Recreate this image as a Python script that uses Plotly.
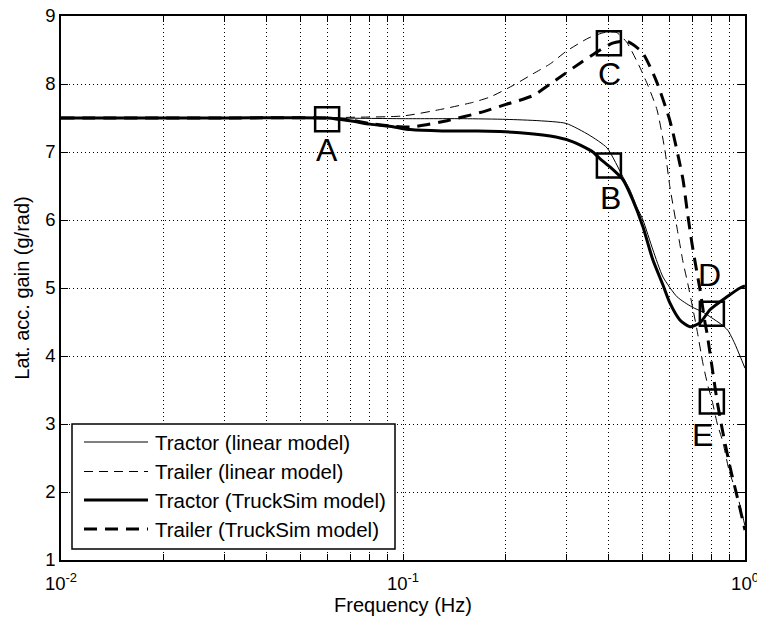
import numpy as np
import plotly.graph_objects as go

# Lateral acceleration gain vs. frequency: tractor and trailer, linear and TruckSim models
tractor_lin_f = [0.01, 0.03, 0.06, 0.1, 0.15, 0.2, 0.25, 0.3, 0.35, 0.395, 0.44, 0.461,
                 0.483, 0.503, 0.538, 0.576, 0.633, 0.70, 0.75, 0.80, 0.85, 0.89, 0.93,
                 0.967, 1.0]
tractor_lin_g = [7.5, 7.5, 7.5, 7.49, 7.49, 7.48, 7.46, 7.42, 7.25, 7.06, 6.63, 6.44,
                 6.19, 6.0, 5.56, 5.16, 4.87, 4.72, 4.65, 4.56, 4.47, 4.38, 4.2,
                 4.0, 3.82]

trailer_lin_f = [0.01, 0.05, 0.07, 0.1, 0.13, 0.16, 0.18, 0.21, 0.24, 0.27, 0.3, 0.35,
                 0.39, 0.42, 0.45, 0.49, 0.52, 0.553, 0.583, 0.603, 0.637, 0.659, 0.68,
                 0.705, 0.724, 0.754, 0.78, 0.80, 0.83, 0.86, 0.9, 0.95, 1.0]
trailer_lin_g = [7.5, 7.5, 7.51, 7.53, 7.63, 7.73, 7.81, 7.98, 8.15, 8.3, 8.48, 8.68,
                 8.76, 8.76, 8.62, 8.27, 7.98, 7.62, 7.03, 6.49, 5.8, 5.38, 5.07,
                 4.68, 4.38, 3.88, 3.55, 3.36, 3.0, 2.75, 2.3, 1.95, 1.5]

tractor_ts_f = [0.01, 0.03, 0.06, 0.07, 0.08, 0.0935, 0.105, 0.13, 0.165, 0.192, 0.224,
                0.28, 0.314, 0.33, 0.359, 0.377, 0.403, 0.44, 0.47, 0.503, 0.538,
                0.576, 0.603, 0.645, 0.69, 0.739, 0.79, 0.886, 0.967, 1.0]
tractor_ts_g = [7.5, 7.5, 7.5, 7.46, 7.41, 7.37, 7.33, 7.31, 7.31, 7.3, 7.28,
                7.22, 7.15, 7.1, 7.0, 6.9, 6.78, 6.59, 6.29, 5.9, 5.41,
                5.04, 4.78, 4.53, 4.43, 4.49, 4.68, 4.87, 5.0, 5.03]

trailer_ts_f = [0.01, 0.03, 0.06, 0.07, 0.08, 0.0935, 0.107, 0.1345, 0.168, 0.2, 0.24,
                0.28, 0.33, 0.377, 0.41, 0.45, 0.5, 0.55, 0.6, 0.616, 0.637, 0.659,
                0.677, 0.70, 0.724, 0.739, 0.764, 0.774, 0.801, 0.828, 0.862, 0.904,
                0.954, 1.0]
trailer_ts_g = [7.5, 7.5, 7.5, 7.47, 7.42, 7.38, 7.37, 7.46, 7.58, 7.7, 7.83,
                8.06, 8.31, 8.5, 8.6, 8.63, 8.47, 8.05, 7.5, 7.28, 6.95, 6.59,
                6.15, 5.65, 5.22, 4.97, 4.49, 4.34, 3.84, 3.35, 2.87, 2.37,
                1.88, 1.44]

# Marked operating points
point_f = [0.06, 0.4, 0.4, 0.8, 0.8]
point_g = [7.48, 6.8, 8.6, 4.62, 3.33]
point_labels = ["A", "B", "C", "D", "E"]
label_shift_y = [-31, -32, -31, 39, -33]
label_shift_x = [0, 2, 1, -2, -9]

series_names = ["Tractor (linear model)", "Trailer (linear model)",
                "Tractor (TruckSim model)", "Trailer (TruckSim model)"]

x_major = [0.01, 0.1, 1.0]
x_major_text = ["10<sup>-2</sup>", "10<sup>-1</sup>", "10<sup>0</sup>"]
y_ticks = [1, 2, 3, 4, 5, 6, 7, 8, 9]

FONT = "Liberation Sans, Arial, Helvetica, sans-serif"
styles = [
    dict(color="black", width=1, dash="solid"),
    dict(color="black", width=1, dash="9px,6px"),
    dict(color="black", width=3, dash="solid"),
    dict(color="black", width=3, dash="13px,8px"),
]
series = [(tractor_lin_f, tractor_lin_g), (trailer_lin_f, trailer_lin_g),
          (tractor_ts_f, tractor_ts_g), (trailer_ts_f, trailer_ts_g)]

fig = go.Figure()
for (f, g), name, st in zip(series, series_names, styles):
    fig.add_trace(go.Scatter(x=f, y=g, mode="lines", name=name,
                             line=dict(shape="spline", smoothing=0.6, **st),
                             showlegend=False))

fig.add_trace(go.Scatter(x=point_f, y=point_g, mode="markers", showlegend=False,
                         marker=dict(symbol="square-open", size=24, color="black",
                                     line=dict(width=2.5, color="black"))))

for f, g, lab, dy, dx in zip(point_f, point_g, point_labels, label_shift_y, label_shift_x):
    fig.add_annotation(x=np.log10(f), y=g, xref="x", yref="y", text=lab,
                       showarrow=False, yshift=dy, xshift=dx,
                       font=dict(family=FONT, size=32, color="black"))

# Tick positions: every 1..9 step in each decade, labels only on decades
x_ticks = []
x_text = []
for dec in [0.01, 0.1]:
    for k in range(1, 10):
        v = round(dec * k, 6)
        x_ticks.append(v)
        x_text.append(x_major_text[x_major.index(v)] if v in x_major else "")
x_ticks.append(1.0)
x_text.append(x_major_text[2])

W, H = 757, 624
L, R, T, B = 61, 12, 16, 64
pw, ph = W - L - R, H - T - B


def px(x):
    return (x - L) / pw


def py(y):
    return (H - B - y) / ph


# Legend box with line samples
shapes = [dict(type="rect", xref="paper", yref="paper", x0=px(72), x1=px(395),
               y0=py(549), y1=py(424), fillcolor="white",
               line=dict(color="black", width=1.5), layer="above")]
row_y = [442, 471.5, 500, 529]
for st, ry, name in zip(styles, row_y, series_names):
    shapes.append(dict(type="line", xref="paper", yref="paper", x0=px(84), x1=px(148),
                       y0=py(ry), y1=py(ry), line=st, layer="above"))
    fig.add_annotation(x=px(153), y=py(ry), xref="paper", yref="paper", text=name,
                       showarrow=False, xanchor="left", yanchor="middle",
                       font=dict(family=FONT, size=20.5, color="black"))

grid = dict(showgrid=True, gridcolor="black", gridwidth=1, griddash="1px,3px",
            zeroline=False, showline=True, linecolor="black", linewidth=1.5,
            mirror="ticks", ticks="inside", tickcolor="black", automargin=False,
            ticklabeloverflow="allow",
            tickfont=dict(family=FONT, size=18.5, color="black"))

fig.update_layout(
    width=W, height=H,
    margin=dict(l=L, r=R, t=T, b=B, autoexpand=False),
    paper_bgcolor="white", plot_bgcolor="white",
    font=dict(family=FONT, size=18, color="black"),
    showlegend=False,
    shapes=shapes,
    xaxis=dict(type="log", range=[-2, 0], tickmode="array", tickvals=x_ticks,
               ticktext=x_text, ticklen=6, ticklabelstandoff=6,
               title=dict(text="Frequency (Hz)", standoff=4,
                          font=dict(family=FONT, size=20)), **grid),
    yaxis=dict(range=[1, 9], tickmode="array", tickvals=y_ticks, ticklen=7,
               title=dict(text="Lat. acc. gain (g/rad)", standoff=10,
                          font=dict(family=FONT, size=20)), **grid),
)

fig.write_html("out.html")
